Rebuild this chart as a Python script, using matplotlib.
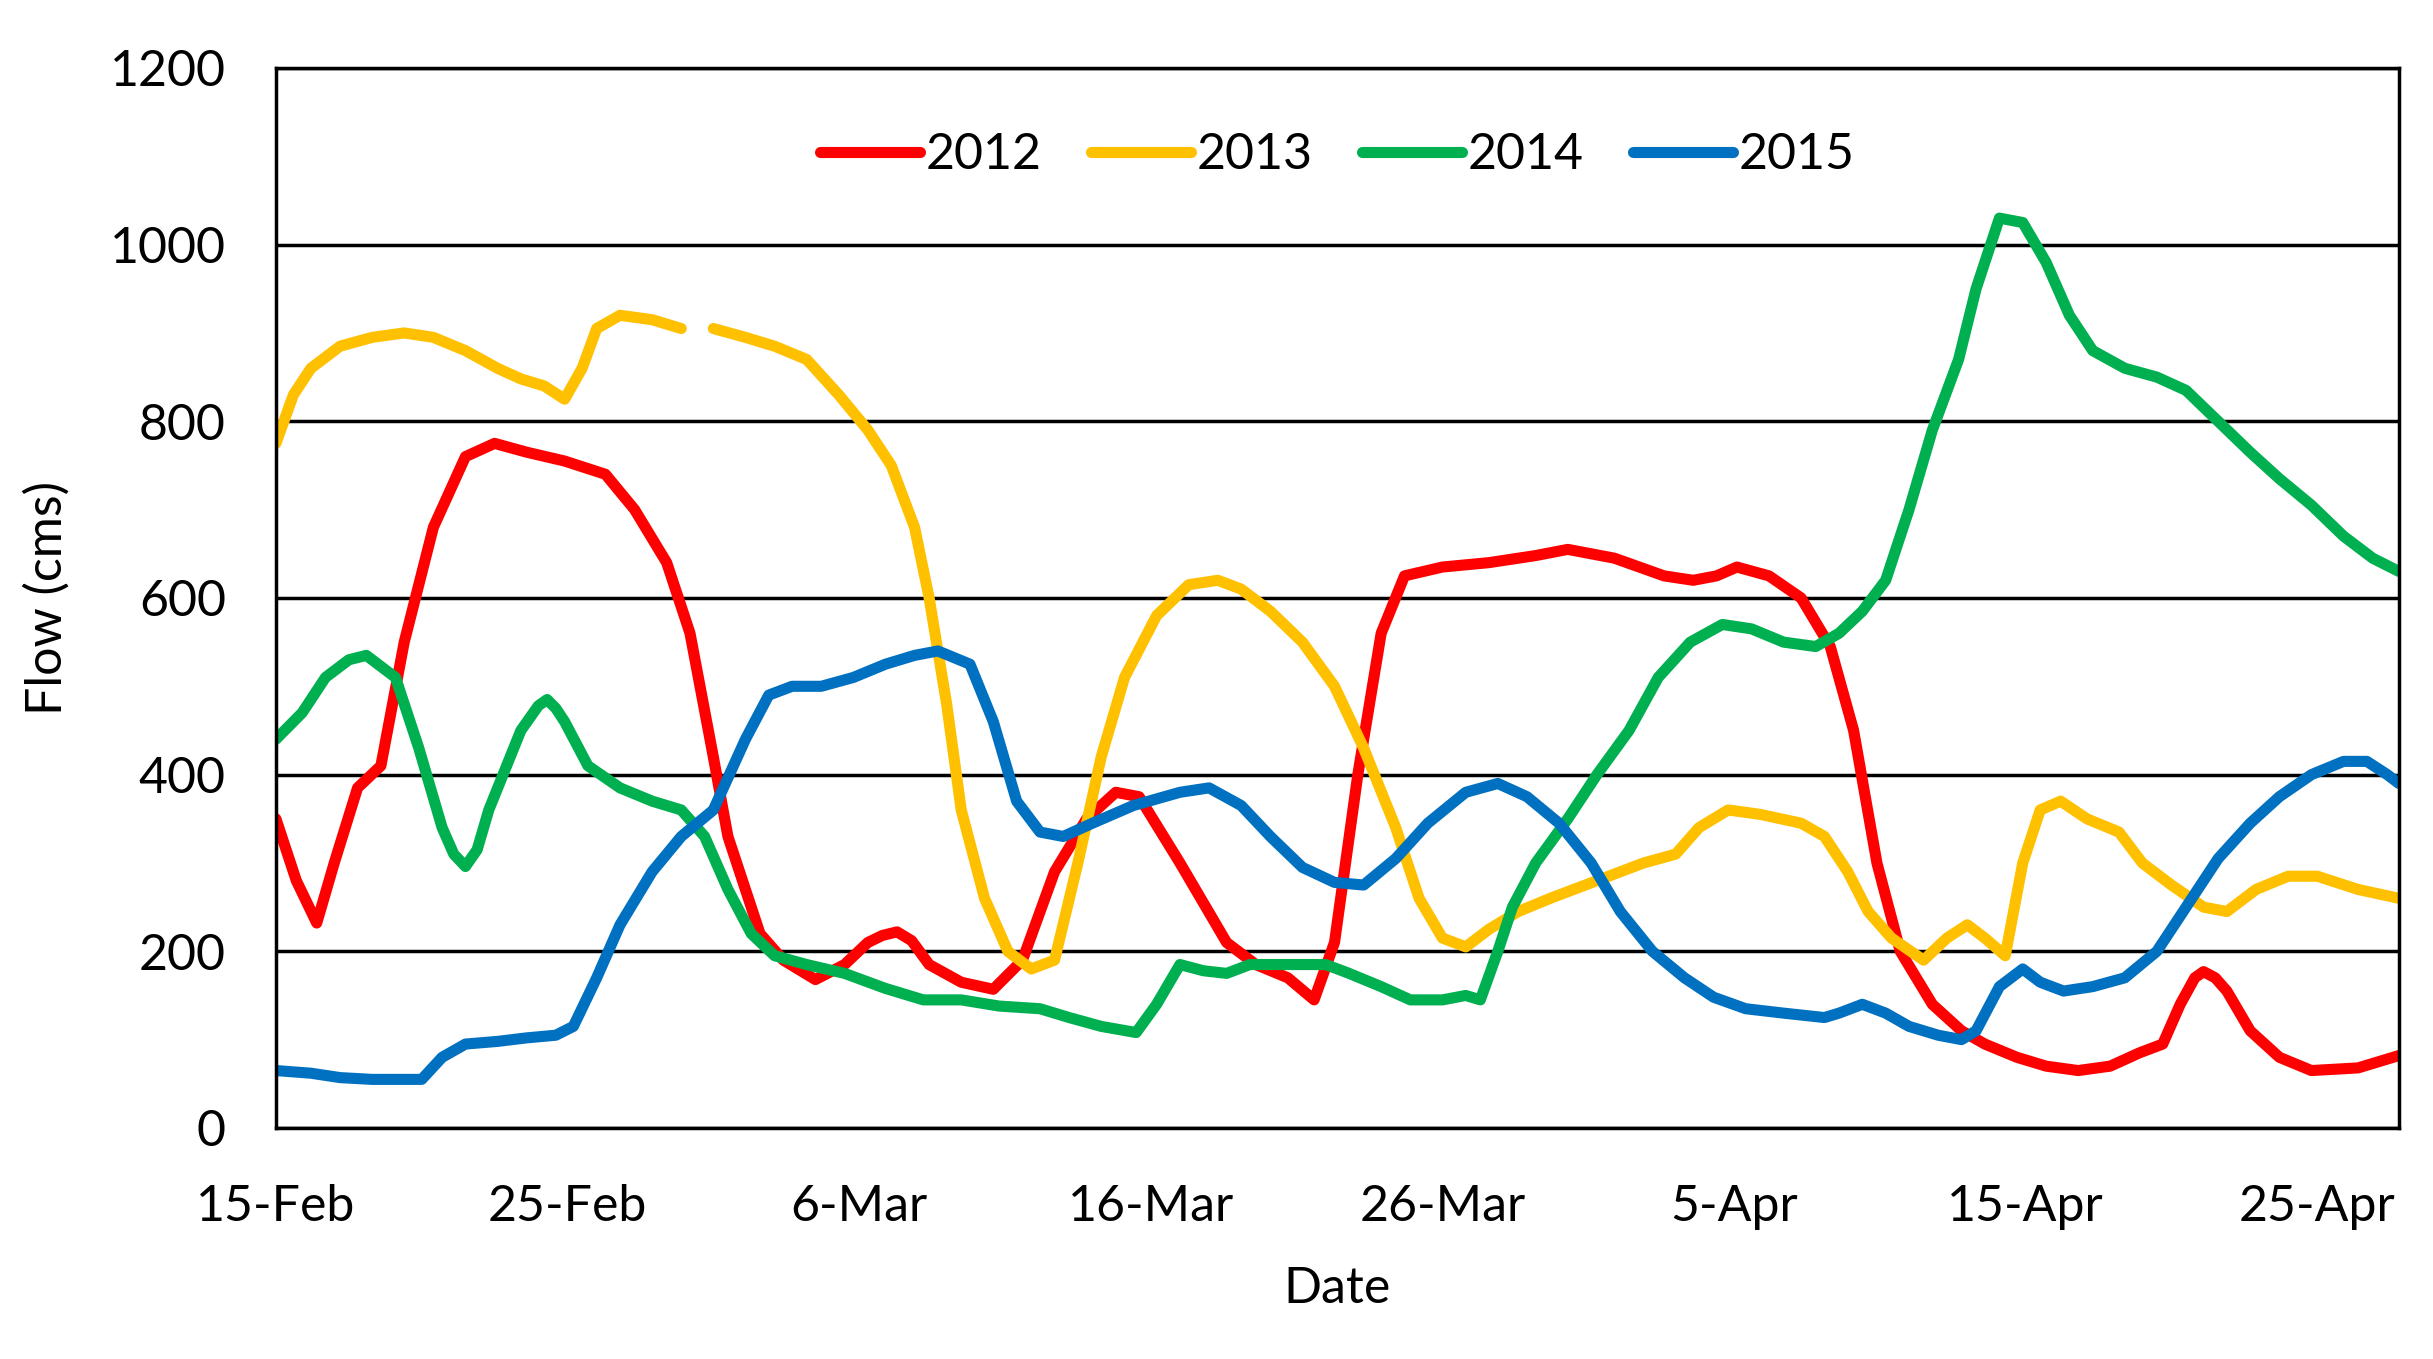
# flow.py  daily flow at the gauge, 15 Feb - 28 Apr, four years

import numpy as np
from matplotlib import pyplot as plt

# days after 15-Feb, and flow (cms)
days_2012 = [0, 0.7, 1.4, 2.0, 2.8, 3.6, 4.4, 5.4, 6.5, 7.5, 8.6, 9.9, 11.3, 12.3, 13.4, 14.2, 15, 15.5,
             16.6, 17.4, 18.5, 19.5, 20.3, 20.8, 21.3, 21.8, 22.4, 23.5, 24.6, 25.6, 26.7, 27.8, 28.8, 29.6,
             31, 32.6, 33.6, 34.7, 35.6, 36.3, 37.1, 37.9, 38.7, 40, 41.6, 43.2, 44.3, 45.9,
             47.6, 48.6, 49.4, 50.1, 51.2, 52.3, 53.3, 54.1, 54.9, 55.7, 56.8, 57.8, 58.6, 59.7,
             60.7, 61.8, 62.9, 63.9, 64.7, 65.3, 65.8, 66.1, 66.5, 66.9, 67.7, 68.7, 69.8, 71.4, 72.8]
flow_2012 = [350, 280, 232, 300, 385, 410, 550, 680, 760, 775, 765, 755, 740, 700, 640, 560, 420, 330,
             220, 190, 168, 185, 210, 218, 222, 212, 185, 165, 157, 190, 290, 350, 380, 375,
             300, 210, 185, 170, 145, 210, 400, 560, 625, 635, 640, 648, 655, 645,
             625, 620, 625, 635, 625, 600, 545, 450, 300, 200, 140, 110, 95, 80,
             70, 65, 70, 85, 95, 140, 170, 177, 170, 155, 110, 80, 65, 68, 82]

days_2013 = [0, 0.6, 1.2, 2.2, 3.3, 4.4, 5.4, 6.5, 7.6, 8.4, 9.2, 9.9, 10.5, 11, 11.8, 12.9, 13.9,
             14.4, 15, 16.1, 17.1, 18.2, 19.3, 20.3, 21.1, 21.9, 22.4, 23, 23.5, 24.3, 25.1, 25.9,
             26.7, 27.5, 28.3, 29.1, 30.2, 31.3, 32.3, 33.1, 34.1, 35.2, 36.3, 37.3, 38.4, 39.2,
             40, 40.8, 41.6, 42.6, 43.7, 45.3, 46.9, 48, 48.8, 49.8, 50.9, 52.3, 53.1, 53.9, 54.6,
             55.4, 56.5, 57.3, 58, 58.6, 59.3, 59.9, 60.5, 61.2, 62.1, 63.2, 64, 65, 66.1, 66.9,
             67.9, 69, 70, 71.4, 72.8]
flow_2013 = [775, 830, 860, 885, 895, 900, 895, 880, 860, 848, 840, 825, 860, 905, 920, 915, 905,
             np.nan, 905, 895, 885, 870, 830, 790, 750, 680, 600, 480, 360, 260, 200, 180,
             190, 300, 420, 510, 580, 615, 620, 610, 585, 550, 500, 430, 340, 260,
             215, 205, 225, 245, 260, 280, 300, 310, 340, 360, 355, 345, 330, 290, 245,
             215, 190, 215, 230, 215, 195, 300, 360, 370, 350, 335, 300, 275, 250, 245,
             270, 285, 285, 270, 260]

days_2014 = [0, 0.9, 1.7, 2.5, 3.1, 4.1, 4.9, 5.7, 6.1, 6.5, 6.9, 7.3, 8.4, 9.0, 9.3, 9.6, 9.9, 10.7, 11.8, 12.9,
             13.9, 14.7, 15.5, 16.3, 17.1, 18.2, 19.5, 20.9, 22.2, 23.5, 24.8, 26.2, 27.2, 28.3,
             29.5, 30.2, 31, 31.8, 32.6, 33.4, 34.7, 36, 36.8, 37.9, 38.9, 40, 40.8, 41.3, 41.9,
             42.4, 43.2, 44.3, 45.3, 46.4, 47.4, 48.5, 49.6, 50.6, 51.7, 52.8, 53.6, 54.4, 55.2,
             56, 56.8, 57.7, 58.3, 59.1, 59.9, 60.7, 61.5, 62.3, 63.4, 64.5, 65.5, 66.6, 67.7,
             68.7, 69.8, 70.9, 71.9, 72.8]
flow_2014 = [440, 470, 510, 530, 535, 510, 430, 340, 310, 296, 315, 360, 450, 478, 485, 475, 460, 410, 385, 370,
             360, 330, 270, 220, 195, 185, 175, 158, 145, 145, 138, 135, 125, 115,
             108, 140, 185, 178, 175, 185, 185, 185, 175, 160, 145, 145, 150, 145, 200,
             250, 300, 350, 400, 450, 510, 550, 570, 565, 550, 545, 560, 585, 620,
             700, 790, 870, 950, 1030, 1025, 980, 920, 880, 860, 850, 835, 800, 765,
             735, 705, 670, 645, 630]

days_2015 = [0, 1.2, 2.2, 3.3, 4.4, 5, 5.7, 6.5, 7.6, 8.6, 9.6, 10.2, 11, 11.8, 12.9, 13.9, 15,
             16.1, 16.9, 17.7, 18.7, 19.8, 20.9, 21.9, 22.7, 23.8, 24.6, 25.4, 26.2, 27, 28, 29.4,
             31, 32, 33.1, 34.1, 35.2, 36.3, 37.3, 38.4, 39.5, 40.8, 41.9, 42.9, 44, 45.1, 46.1,
             47.2, 48.3, 49.3, 50.4, 51.7, 53.1, 53.6, 54.4, 55.2, 56, 57, 57.8, 58.3, 59.1, 59.9,
             60.5, 61.3, 62.3, 63.4, 64.5, 65.5, 66.6, 67.7, 68.7, 69.8, 70.9, 71.7, 72.4, 72.8]
flow_2015 = [65, 62, 57, 55, 55, 55, 80, 95, 98, 102, 105, 115, 170, 230, 290, 330, 360,
             440, 490, 500, 500, 510, 525, 535, 540, 525, 460, 370, 335, 330, 345, 365,
             380, 385, 365, 330, 295, 278, 275, 305, 345, 380, 390, 375, 345, 300, 245,
             200, 170, 148, 135, 130, 125, 130, 140, 130, 115, 105, 100, 110, 160, 180,
             165, 155, 160, 170, 200, 250, 305, 345, 375, 400, 415, 415, 400, 390]

tick_days = [0, 10, 20, 30, 40, 50, 60, 70]
tick_labels = ['15-Feb', '25-Feb', '6-Mar', '16-Mar', '26-Mar', '5-Apr', '15-Apr', '25-Apr']

plt.rcParams['font.family'] = ['Lato', 'DejaVu Sans']

fig = plt.figure(figsize=(24.33, 13.59), dpi=100)
ax = fig.add_axes([0.1134, 0.170, 0.8726, 0.780])

lw = 8
ax.plot(days_2012, flow_2012, color='#FF0000', lw=lw, label='2012', solid_capstyle='round')
ax.plot(days_2013, flow_2013, color='#FFC000', lw=lw, label='2013', solid_capstyle='round')
ax.plot(days_2014, flow_2014, color='#00B050', lw=lw, label='2014', solid_capstyle='round')
ax.plot(days_2015, flow_2015, color='#0070C0', lw=lw, label='2015', solid_capstyle='round')

ax.set_xlim(0, 72.8)
ax.set_ylim(0, 1200)
ax.set_yticks(range(0, 1201, 200))
ax.set_xticks(tick_days)
ax.set_xticklabels(tick_labels)
ax.yaxis.grid(True, color='black', lw=2.5)
ax.set_axisbelow(True)
for s in ax.spines.values():
    s.set_linewidth(2.5)
    s.set_color('black')
ax.tick_params(axis='both', length=0, labelsize=36)
ax.tick_params(axis='x', pad=40)
ax.tick_params(axis='y', pad=36)

ax.set_xlabel('Date', fontsize=36, labelpad=26)
ax.set_ylabel('Flow (cms)', fontsize=36, labelpad=28)

ax.legend(loc='upper center', bbox_to_anchor=(0.5, 0.982), ncol=4, frameon=False,
          fontsize=36, handlelength=2.0, handletextpad=0.1, columnspacing=1.0)

fig.savefig('out.png', dpi=100)
